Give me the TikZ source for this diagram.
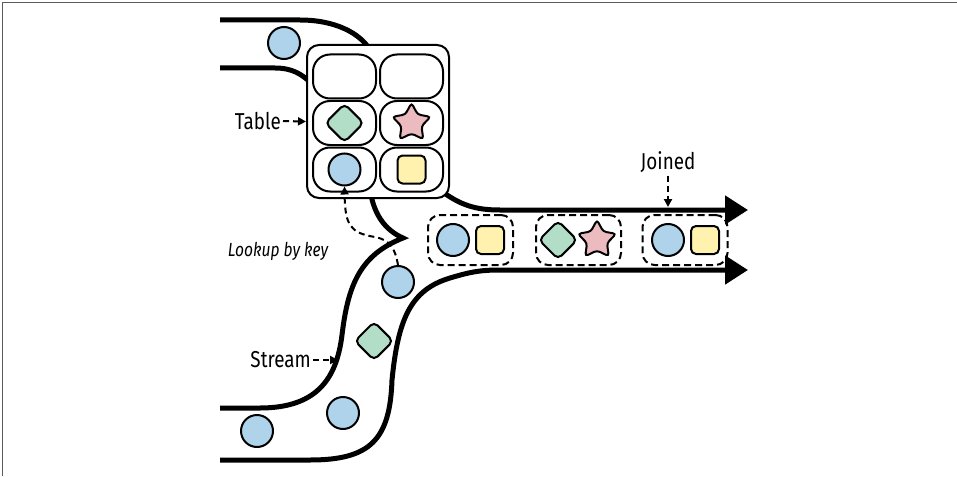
\documentclass[tikz,border=0pt]{standalone}
\usepackage{fontspec}
\setsansfont{Fira Sans}[FakeStretch=0.82]
\usepackage{tikz}
\usetikzlibrary{arrows.meta,calc,positioning,shapes.geometric}
\definecolor{keyblue}{RGB}{174,211,234}
\definecolor{keygreen}{RGB}{178,222,199}
\definecolor{keypink}{RGB}{235,187,192}
\definecolor{keyyellow}{RGB}{255,242,175}
\definecolor{framegray}{RGB}{90,90,90}

\begin{document}
\begin{tikzpicture}[x=1pt,y=-1pt,
  pipe/.style={line width=5pt},
  tbl/.style={draw,line width=2pt,fill=white,rectangle,rounded corners=12pt,minimum width=142pt,minimum height=153pt,inner sep=0pt},
  cell/.style={draw,line width=2pt,rectangle,rounded corners=17pt,minimum width=63pt,minimum height=44pt,inner sep=0pt},
  ball/.style={draw,line width=2pt,circle,fill=keyblue,minimum size=32pt,inner sep=0pt},
  gem/.style={draw,line width=2pt,rectangle,rounded corners=5pt,fill=keygreen,minimum size=27pt,inner sep=0pt,rotate=45},
  tile/.style={draw,line width=2pt,rectangle,rounded corners=5pt,fill=keyyellow,minimum size=28pt,inner sep=0pt},
  starry/.style={draw,line width=2pt,star,star points=5,star point ratio=1.9,rounded corners=3pt,fill=keypink,minimum size=40pt,inner sep=0pt},
  pair/.style={draw,line width=2pt,dash pattern=on 7pt off 4pt,rectangle,rounded corners=12pt,minimum width=85pt,minimum height=50pt,inner sep=0pt},
  lbl/.style={font=\sffamily\fontsize{23}{26}\selectfont,inner sep=0pt},
  hint/.style={line width=2pt,dash pattern=on 6pt off 4pt,-{Triangle[length=8pt,width=8pt]}}
]
\useasboundingbox (0,0) rectangle (957,476);
\draw[framegray,line width=1.5pt] (2.5,476) -- (2.5,2.5) -- (957,2.5);

% table feed
\draw[pipe] (220,20) -- (300,20) .. controls (335,20) and (360,33) .. (370,50);
\draw[pipe] (220,68) -- (275,68) .. controls (292,68) and (302,74) .. (312,84);
% stream, joined output
\draw[pipe] (220,408) -- (260,408) .. controls (320,408) and (337,375) .. (342,335)
  .. controls (348,285) and (360,255) .. (403,238)
  .. controls (385,230) and (375,215) .. (371,195);
\draw[pipe,-{Triangle[length=23pt,width=28pt]}] (440,190) .. controls (460,205) and (475,210) .. (500,210) -- (748,210);
\draw[pipe,-{Triangle[length=23pt,width=28pt]}] (220,460) -- (310,460) .. controls (370,460) and (390,440) .. (392,380)
  .. controls (398,320) and (410,290) .. (450,278) .. controls (470,272) and (480,270) .. (500,270) -- (748,270);

% table
\node[tbl] (tblbox) at (378,121.5) {};
\node[cell] (cellA) at (344.5,76.5) {};
\node[cell] (cellB) at (411.5,76.5) {};
\node[cell] (cellC) at (344.5,123) {};
\node[cell] (cellD) at (411.5,123) {};
\node[cell] (cellE) at (344.5,169.5) {};
\node[cell] (cellF) at (411.5,169.5) {};
\node[gem] (tblGem) at (cellC) {};
\node[starry] (tblStar) at (cellD) {};
\node[ball] (tblBall) at (cellE) {};
\node[tile] (tblTile) at (cellF) {};

% records on the way
\node[ball] (feedBall) at (284,43) {};
\node[ball] (srcA) at (257,431) {};
\node[ball] (srcB) at (343,413) {};
\node[gem] (srcC) at (374,341) {};
\node[ball] (srcD) at (398,282) {};

% joined records
\node[pair] (pairA) at (470.5,240) {};
\node[ball] (outBallA) at (453,240) {};
\node[tile] (outTileA) at (490,240) {};
\node[pair] (pairB) at (578.5,240) {};
\node[gem] (outGem) at (558,240) {};
\node[starry] (outStar) at (597,240) {};
\node[pair] (pairC) at (685,240) {};
\node[ball] (outBallC) at (668,240) {};
\node[tile] (outTileC) at (705,240) {};

% labels
\node[lbl,anchor=east] (tblLbl) at (281,121) {Table};
\draw[hint,shorten <=2pt] (tblLbl.east) -- (tblbox.west);
\node[lbl,anchor=east] (strLbl) at (311,360) {Stream};
\coordinate (strPt) at (338,360);
\draw[hint,shorten <=2pt] (strLbl.east) -- (strPt);
\node[lbl] (joinLbl) at (668,162) {Joined};
\coordinate (joinPt) at (668,207);
\draw[hint,shorten <=3pt] (joinLbl.south) -- (joinPt);
\node[lbl,font=\sffamily\itshape\fontsize{19}{22}\selectfont] (lookLbl) at (278,251) {Lookup by key};
\draw[hint] (srcD.north) .. controls (395,248) and (390,240) .. (375,237)
  .. controls (350,233) and (345,225) .. (tblBall.south);
\end{tikzpicture}
\end{document}
